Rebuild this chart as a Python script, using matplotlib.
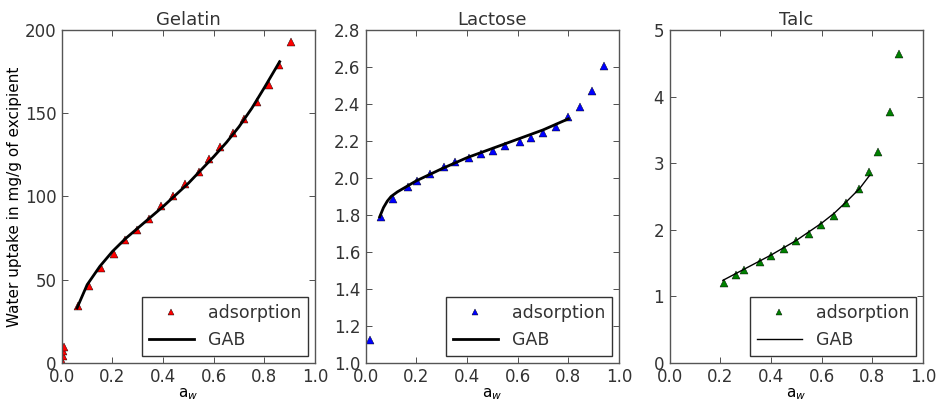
import numpy as np
import matplotlib.pyplot as plt

# Gelatin
gel_x = [0.002, 0.004, 0.006, 0.008, 0.062, 0.109, 0.155, 0.204, 0.25, 0.296, 0.345,
         0.392, 0.44, 0.487, 0.54, 0.58, 0.625, 0.674, 0.72, 0.77, 0.816, 0.859, 0.905]
gel_y = [1, 4, 7, 9.5, 34.4, 46.4, 57, 65.6, 73.6, 80, 86.6,
         94, 100.4, 107.6, 115, 122.4, 130, 138, 146.6, 157, 167, 179, 193]
gel_fit_x = [0.06, 0.1, 0.15, 0.2, 0.25, 0.3, 0.35, 0.4, 0.45, 0.5, 0.55, 0.6, 0.65, 0.7, 0.75, 0.8, 0.86]
gel_fit_y = [33, 47, 58, 67, 74.5, 81, 87.5, 94, 101, 108, 116, 124, 132.5, 142, 153, 165.5, 181]

# Lactose
lac_x = [0.017, 0.059, 0.109, 0.168, 0.204, 0.253, 0.309, 0.353, 0.408, 0.454, 0.503,
         0.55, 0.608, 0.651, 0.701, 0.75, 0.8, 0.846, 0.895, 0.941]
lac_y = [1.126, 1.788, 1.886, 1.95, 1.985, 2.022, 2.062, 2.085, 2.109, 2.13, 2.147,
         2.173, 2.197, 2.218, 2.245, 2.278, 2.328, 2.386, 2.472, 2.607]
lac_fit_x = [0.055, 0.07, 0.085, 0.1, 0.125, 0.15, 0.2, 0.3, 0.4, 0.5, 0.6, 0.7, 0.8]
lac_fit_y = [1.79, 1.84, 1.875, 1.9, 1.925, 1.945, 1.985, 2.05, 2.11, 2.16, 2.21, 2.26, 2.32]

# Talc
talc_x = [0.213, 0.26, 0.295, 0.355, 0.401, 0.451, 0.5, 0.551, 0.599, 0.647, 0.697,
          0.746, 0.786, 0.821, 0.868, 0.905]
talc_y = [1.2, 1.325, 1.4, 1.515, 1.61, 1.71, 1.825, 1.94, 2.075, 2.21, 2.4,
          2.61, 2.875, 3.175, 3.775, 4.635]
talc_fit_x = [0.21, 0.3, 0.4, 0.5, 0.6, 0.65, 0.7, 0.75, 0.79]
talc_fit_y = [1.24, 1.42, 1.62, 1.84, 2.1, 2.25, 2.43, 2.62, 2.82]

plt.rcParams['font.size'] = 12
plt.rcParams['text.color'] = '#333333'
plt.rcParams['xtick.color'] = '#333333'
plt.rcParams['ytick.color'] = '#333333'

fig, axes = plt.subplots(1, 3, figsize=(9.37, 4.01), dpi=100)
fig.subplots_adjust(left=0.066, right=0.985, top=0.925, bottom=0.095, wspace=0.2)

panels = [
    ('Gelatin', gel_x, gel_y, gel_fit_x, gel_fit_y, 'red', 2.0, (0, 200), np.arange(0, 201, 50)),
    ('Lactose', lac_x, lac_y, lac_fit_x, lac_fit_y, 'blue', 2.0, (1.0, 2.8), np.arange(1.0, 2.81, 0.2)),
    ('Talc', talc_x, talc_y, talc_fit_x, talc_fit_y, 'green', 1.0, (0, 5), np.arange(0, 6, 1)),
]

for ax, (title, x, y, fx, fy, col, lw, ylim, yt) in zip(axes, panels):
    ax.plot(x, y, '^', color=col, markeredgecolor='k', markeredgewidth=0.3,
            markersize=6, label='adsorption')
    ax.plot(fx, fy, '-', color='k', lw=lw, label='GAB')
    ax.set_xlim(0, 1)
    ax.set_ylim(*ylim)
    ax.set_xticks(np.arange(0, 1.01, 0.2))
    ax.set_yticks(yt)
    if title == 'Lactose':
        ax.set_yticklabels(['%.1f' % v for v in yt])
    ax.set_xticklabels(['%.1f' % v for v in np.arange(0, 1.01, 0.2)])
    ax.tick_params(direction='in', top=True, right=True, length=4, width=0.6, pad=4)
    for s in ax.spines.values():
        s.set_color('#555555')
        s.set_linewidth(1.0)
    ax.set_title(title, fontsize=13, pad=4)
    ax.set_xlabel('a$_w$', fontsize=11, labelpad=0)
    leg = ax.legend(loc='lower right', numpoints=1, fancybox=False, framealpha=1,
                    borderaxespad=0.4, handlelength=2.6, fontsize=12.5, markerscale=0.8)
    leg.get_frame().set_edgecolor('#333333')
    leg.get_frame().set_linewidth(1.0)

axes[0].set_ylabel('Water uptake in mg/g of excipient', fontsize=11, labelpad=2)

fig.savefig('out.png', dpi=100, facecolor='white')
